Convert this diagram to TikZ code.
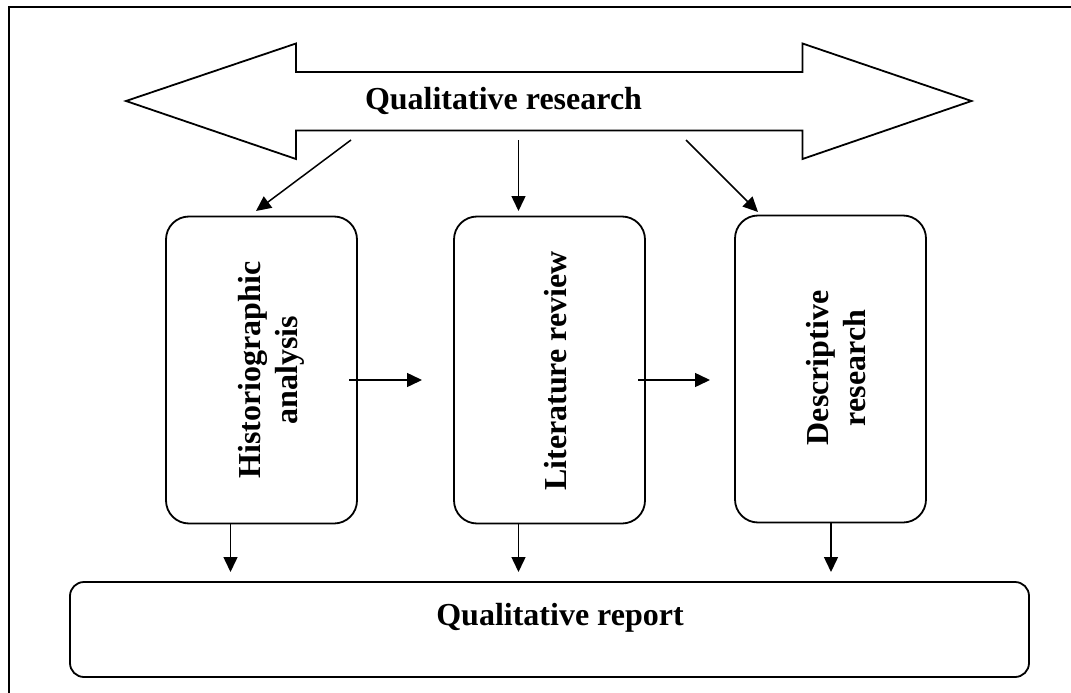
\documentclass[tikz,border=0pt]{standalone}
\usepackage{fontspec}
\setmainfont{Liberation Serif}
\usetikzlibrary{arrows.meta}
\begin{document}
\begin{tikzpicture}[x=1pt,y=-1pt,
  txt/.style={font=\fontsize{32}{37}\selectfont\bfseries, inner sep=0pt},
  vtxt/.style={txt, rotate=90, align=center},
  stage/.style={draw, line width=1.8pt, rounded corners=23pt,
    minimum width=191pt, minimum height=307pt, inner sep=0pt},
  report/.style={draw, line width=1.8pt, rounded corners=14pt,
    minimum width=959pt, minimum height=95pt, inner sep=0pt},
  arr/.style={line width=1.5pt, -{Triangle[length=15pt,width=14pt]}}]
\useasboundingbox (0,0) rectangle (1071,693);

% page rule along the top and left edges
\draw[line width=2.2pt] (9.3,693) -- (9.3,7) -- (1071,7);

% two-headed banner
\draw[line width=1.8pt, line join=miter]
  (126,101) -- (296,43.5) -- (296,72) -- (802.5,72) -- (802.5,43.5)
  -- (971.5,101) -- (802.5,159) -- (802.5,130.5) -- (296,130.5)
  -- (296,159) -- cycle;
\node[txt, anchor=base] (qres) at (503.5,109) {Qualitative research};

% three stages
\node[stage] (hist) at (261.5,370) {};
\node[stage] (lit)  at (549.5,370) {};
\node[stage] (desc) at (830.5,369) {};
\node[vtxt] (histtxt) at (271,370) {Historiographic\\analysis};
\node[vtxt] (littxt)  at (556,371) {Literature review};
\node[vtxt] (desctxt) at (836,368) {Descriptive\\research};

% final report
\node[report] (rep) at (549.5,629.5) {};
\node[txt, anchor=base] (reptxt) at (560,625) {Qualitative report};

% arrows from the banner
\coordinate (a1s) at (351,140);   \coordinate (a1e) at (256,211);
\coordinate (a2s) at (518.5,140); \coordinate (a2e) at (518.5,211);
\coordinate (a3s) at (686,140);   \coordinate (a3e) at (758,212);
\draw[arr] (a1s) -- (a1e);
\draw[arr] (a2s) -- (a2e);
\draw[arr] (a3s) -- (a3e);

% arrows between stages
\coordinate (h1s) at (349,380); \coordinate (h1e) at (422,380);
\coordinate (h2s) at (638,380); \coordinate (h2e) at (710,380);
\draw[arr] (h1s) -- (h1e);
\draw[arr] (h2s) -- (h2e);

% arrows down to the report
\coordinate (d1) at (230.5,572);
\coordinate (d2) at (518.5,572);
\coordinate (d3) at (831,572);
\draw[arr] (d1 |- hist.south) -- (d1);
\draw[arr] (d2 |- lit.south) -- (d2);
\draw[arr] (d3 |- desc.south) -- (d3);
\end{tikzpicture}
\end{document}
